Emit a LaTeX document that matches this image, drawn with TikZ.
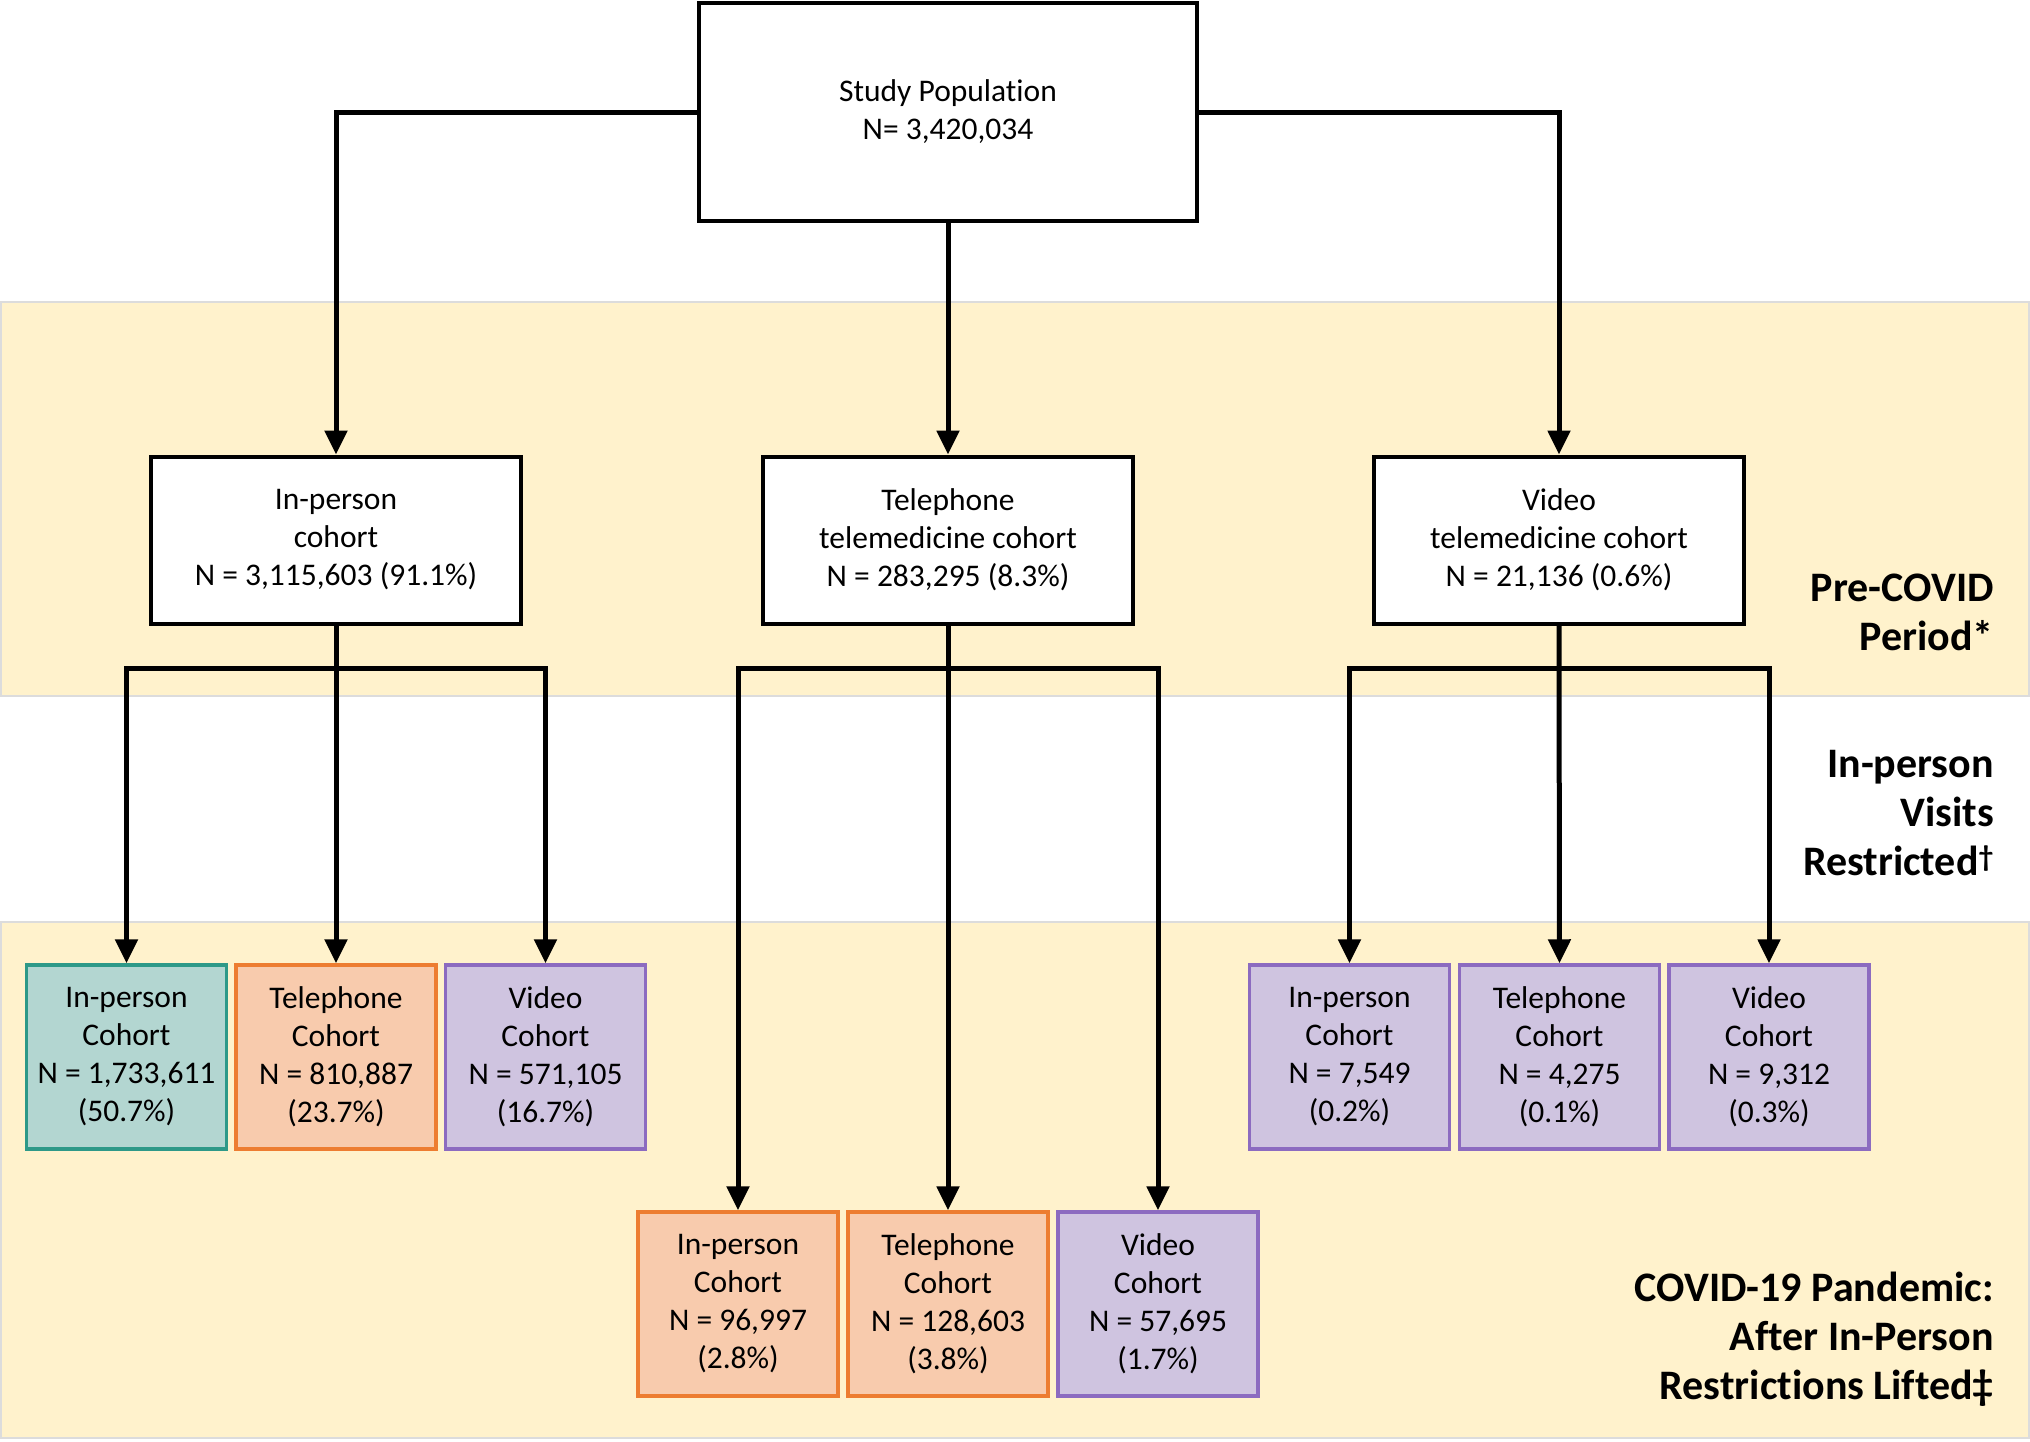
\documentclass[tikz,border=0pt]{standalone}
\usepackage{fontspec}
\setmainfont{Carlito}[Ligatures=NoCommon]
\usetikzlibrary{arrows.meta}
\definecolor{bandfill}{HTML}{FFF2CC}
\definecolor{bandline}{HTML}{DCDCDC}
\definecolor{tealfill}{HTML}{B3D6D1}
\definecolor{tealline}{HTML}{2E9988}
\definecolor{orgfill}{HTML}{F8CBAD}
\definecolor{orgline}{HTML}{ED7D31}
\definecolor{purfill}{HTML}{CFC4E0}
\definecolor{purline}{HTML}{8C6BC0}
\begin{document}
\begin{tikzpicture}[x=1pt,y=-1pt,
  bandsty/.style={fill=bandfill,draw=bandline,line width=1.5pt},
  txt/.style={font=\fontsize{31.5pt}{38pt}\selectfont,align=center,text=black},
  wbox/.style={txt,draw=black,fill=white,line width=4pt,inner sep=0pt},
  midbox/.style={wbox,minimum width=370pt,minimum height=167pt},
  cbox/.style={txt,line width=3.5pt,inner sep=0pt,minimum width=200pt,minimum height=184pt},
  tealbox/.style={cbox,draw=tealline,fill=tealfill},
  orgbox/.style={cbox,draw=orgline,fill=orgfill},
  purbox/.style={cbox,draw=purline,fill=purfill},
  conn/.style={draw=black,line width=5pt,-{Triangle[width=22pt,length=24pt]}},
  phase/.style={font=\fontsize{42pt}{49pt}\selectfont\bfseries,align=right,anchor=east,inner sep=0pt}
]
\useasboundingbox (0,0) rectangle (2030,1441);
\fill[white] (0,0) rectangle (2030,1441);
% bands
\draw[bandsty] (1,302) rectangle (2029,696);
\draw[bandsty] (1,922) rectangle (2029,1438);

% phase labels
\node[phase] (lab1) at (1994,612) {Pre-COVID\\Period*};
\node[phase] (lab2) at (1994,813) {In-person\\Visits\\Restricted\textsuperscript{\dag}};
\node[phase] (lab3) at (1994,1339) {COVID-19 Pandemic:\\After In-Person\\Restrictions Lifted‡};

% top
\node[wbox,minimum width=498pt,minimum height=218pt] (top) at (948,112) {Study Population\\N= 3,420,034};

% middle row
\node[midbox] (inp) at (336,540) {In-person\\cohort\\N = 3,115,603 (91.1\%)};
\node[midbox] (tel) at (948,540) {Telephone\\telemedicine cohort\\N = 283,295 (8.3\%)};
\node[midbox] (vid) at (1559,540) {Video\\telemedicine cohort\\N = 21,136 (0.6\%)};

% left children
\node[tealbox] (a1) at (126.5,1057) {In-person\\Cohort\\N = 1,733,611\\(50.7\%)};
\node[orgbox]  (a2) at (336,1057) {Telephone\\Cohort\\N = 810,887\\(23.7\%)};
\node[purbox]  (a3) at (545.5,1057) {Video\\Cohort\\N = 571,105\\(16.7\%)};

% middle children
\node[orgbox] (b1) at (738,1304) {In-person\\Cohort\\N = 96,997\\(2.8\%)};
\node[orgbox] (b2) at (948,1304) {Telephone\\Cohort\\N = 128,603\\(3.8\%)};
\node[purbox] (b3) at (1158,1304) {Video\\Cohort\\N = 57,695\\(1.7\%)};

% right children
\node[purbox] (r1) at (1349.5,1057) {In-person\\Cohort\\N = 7,549\\(0.2\%)};
\node[purbox] (r2) at (1559.5,1057) {Telephone\\Cohort\\N = 4,275\\(0.1\%)};
\node[purbox] (r3) at (1769,1057) {Video\\Cohort\\N = 9,312\\(0.3\%)};

% connectors from top
\draw[conn] (top.west) -| (inp.north);
\draw[conn] (top.south) -- (tel.north);
\draw[conn] (top.east) -| (vid.north);

% branch level
\coordinate (ly) at (0,668);

\draw[conn] (inp.south) -- (a2.north);
\draw[conn] (a2.north |- ly) -| (a1.north);
\draw[conn] (a2.north |- ly) -| (a3.north);

\draw[conn] (tel.south) -- (b2.north);
\draw[conn] (b2.north |- ly) -| (b1.north);
\draw[conn] (b2.north |- ly) -| (b3.north);

\draw[conn] (vid.south) -- (r2.north);
\draw[conn] (r2.north |- ly) -| (r1.north);
\draw[conn] (r2.north |- ly) -| (r3.north);
\end{tikzpicture}
\end{document}
